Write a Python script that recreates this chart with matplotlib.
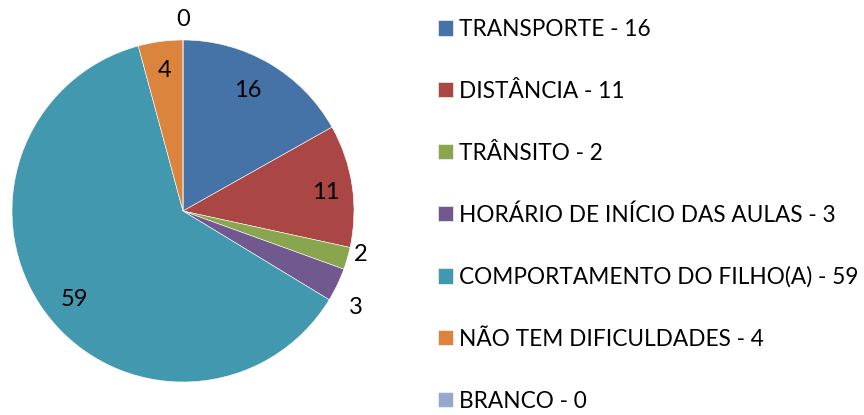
import matplotlib
matplotlib.use("Agg")
import matplotlib.pyplot as plt
import numpy as np

categories = ["TRANSPORTE", "DISTÂNCIA", "TRÂNSITO", "HORÁRIO DE INÍCIO DAS AULAS",
              "COMPORTAMENTO DO FILHO(A)", "NÃO TEM DIFICULDADES", "BRANCO"]
values = [16, 11, 2, 3, 59, 4, 0]
colors = ["#4572A7", "#AA4643", "#89A54E", "#71588F", "#4198AF", "#DB843D", "#93A9CF"]
label_dist = [0.80, 0.84, 1.07, 1.16, 0.82, 0.83, 1.12]
label_shift = [1.9, -1.0, 2.5, -3.6, 2.1, 0.0, 0.0]

plt.rcParams['font.family'] = ['Lato', 'DejaVu Sans']

W, H = 864, 415
fig = plt.figure(figsize=(W / 100, H / 100), dpi=100)
cx, cy, r = 183, 211, 171
ax = fig.add_axes([(cx - r) / W, (H - cy - r) / H, 2 * r / W, 2 * r / H])
wedges, _ = ax.pie(values, colors=colors, startangle=90, counterclock=False,
                   wedgeprops=dict(linewidth=0.4, edgecolor="white"), radius=1)
ax.set_xlim(-1, 1)
ax.set_ylim(-1, 1)
ax.set_aspect("equal")
ax.axis("off")

for w, v, d, s in zip(wedges, values, label_dist, label_shift):
    ang = np.deg2rad((w.theta1 + w.theta2) / 2 + s)
    ax.text(d * np.cos(ang), d * np.sin(ang), str(v), ha="center", va="center",
            fontsize=17, color="black", clip_on=False)

labels = [f"{c} - {v}" for c, v in zip(categories, values)]
leg = fig.legend(wedges, labels, loc="upper left", bbox_to_anchor=(438 / W, 1 - 19 / H),
                 frameon=False, fontsize=16.3, handlelength=0.66, handleheight=0.66,
                 handletextpad=0.27, labelspacing=1.80, borderpad=0, borderaxespad=0)

fig.savefig("out.png", dpi=100)
